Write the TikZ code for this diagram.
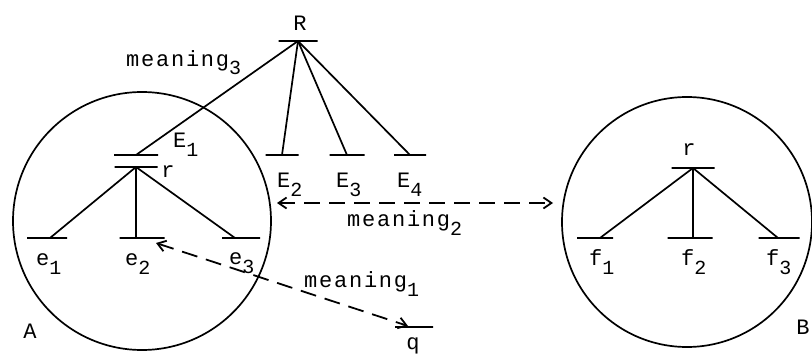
\documentclass[tikz,border=0pt]{standalone}
\usepackage{fontspec}
\setmainfont{Liberation Mono}[LetterSpace=8]
\usetikzlibrary{arrows.meta}
\newcommand{\lowsub}[1]{\raisebox{-9pt}{\fontsize{20}{20}\selectfont #1}}
\tikzset{
  lw/.style={line width=1.7pt},
  bar/.style={draw,line width=1.8pt,inner sep=0pt,minimum height=0pt,minimum width=#1},
  bar/.default=40pt,
  lbl/.style={inner sep=0pt,font=\fontsize{22}{22}\selectfont},
  circ/.style={draw,line width=1.7pt,circle,inner sep=0pt},
  darrow/.style={line width=1.8pt,dash pattern=on 16pt off 9pt,{Straight Barb[length=8pt,width=11pt]}-{Straight Barb[length=8pt,width=11pt]}}
}
\begin{document}
\begin{tikzpicture}[x=1pt,y=-1pt]
\useasboundingbox (0,0) rectangle (812,356);
% circles
\node[circ,minimum size=258pt] (A) at (142,221) {};
\node[circ,minimum size=250pt] (B) at (687,222) {};
\node[lbl] (Alab) at (30,331) {A};
\node[lbl] (Blab) at (803,327) {B};
% R tree
\node[bar=39pt] (R) at (298,41) {};
\node[lbl] (Rl) at (300,23) {R};
\node[bar=44pt] (E1) at (136,155) {};
\node[bar=33pt] (E2) at (282,155) {};
\node[bar=35pt] (E3) at (347,155) {};
\node[bar=32pt] (E4) at (410,155) {};
\draw[lw] (R.center) -- (E1.center);
\draw[lw] (R.center) -- (E2.center);
\draw[lw] (R.center) -- (E3.center);
\draw[lw] (R.center) -- (E4.center);
\node[lbl,anchor=base west] (E1l) at (173,147) {E\lowsub{1}};
\node[lbl,anchor=base west] (E2l) at (277,187) {E\lowsub{2}};
\node[lbl,anchor=base west] (E3l) at (336,187) {E\lowsub{3}};
\node[lbl,anchor=base west] (E4l) at (397,187) {E\lowsub{4}};
\node[lbl,anchor=base west] (m3) at (126,66) {meaning\lowsub{3}};
% A tree
\node[bar=43pt] (r) at (136,167) {};
\node[lbl] (rl) at (168,172) {r};
\node[bar=40pt] (e1) at (47,238) {};
\node[bar=45pt] (e2) at (142,238) {};
\node[bar=38pt] (e3) at (241,238) {};
\draw[lw] (r.center) -- (e1.east -| 50,238);
\draw[lw] (r.center) -- (e2.center -| r.center);
\draw[lw] (r.center) -- (e3.center -| 235,238);
\node[lbl,anchor=base west] (e1l) at (36,265) {e\lowsub{1}};
\node[lbl,anchor=base west] (e2l) at (125,265) {e\lowsub{2}};
\node[lbl,anchor=base west] (e3l) at (229,264) {e\lowsub{3}};
% B tree
\node[bar=43pt] (rB) at (693,168) {};
\node[lbl] (rBl) at (689,150) {r};
\node[bar=36pt] (f1) at (595,238) {};
\node[bar=45pt] (f2) at (690,238) {};
\node[bar=41pt] (f3) at (779,238) {};
\draw[lw] (rB.center) -- (f1.center -| 600,238);
\draw[lw] (rB.center) -- (f2.center -| rB.center);
\draw[lw] (rB.center) -- (f3.center -| 778,238);
\node[lbl,anchor=base west] (f1l) at (589,265) {f\lowsub{1}};
\node[lbl,anchor=base west] (f2l) at (681,265) {f\lowsub{2}};
\node[lbl,anchor=base west] (f3l) at (766,265) {f\lowsub{3}};
% q
\node[bar=38pt] (q) at (414,327) {};
\node[lbl] (ql) at (413,346) {q};
% meaning arrows
\coordinate (m2a) at (277,203);
\coordinate (m2b) at (553,203);
\draw[darrow] (m2a) -- (m2b);
\node[lbl,anchor=base west] (m2) at (347,226) {meaning\lowsub{2}};
\coordinate (m1a) at (156,243);
\coordinate (m1b) at (408,326);
\draw[darrow] (m1a) -- (m1b);
\node[lbl,anchor=base west] (m1) at (304,287) {meaning\lowsub{1}};
\end{tikzpicture}
\end{document}
